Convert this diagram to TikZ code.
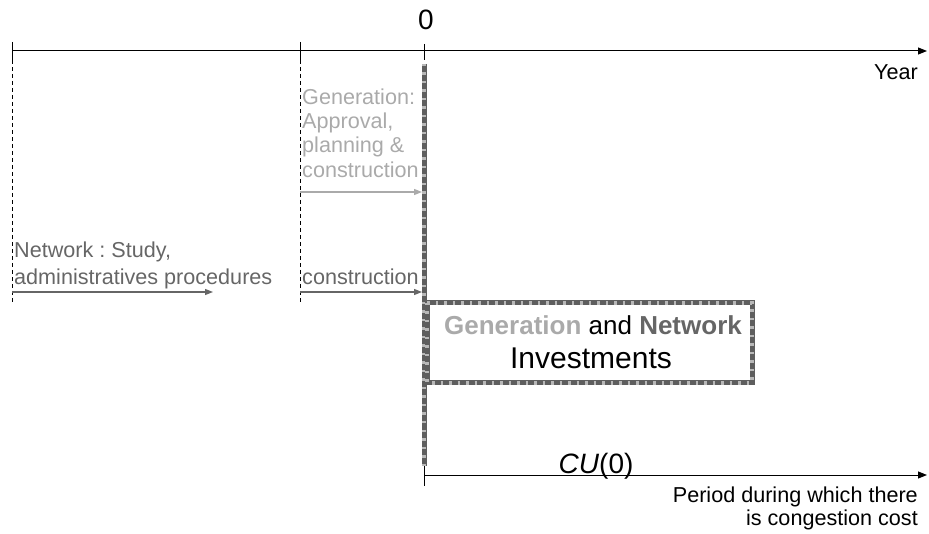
\documentclass[tikz,border=0pt]{standalone}
\usepackage{fontspec}
\setmainfont{Liberation Sans}
\usetikzlibrary{arrows.meta}
\definecolor{lgray}{HTML}{AAAAAA}
\definecolor{dgray}{HTML}{666666}
\definecolor{hatchA}{HTML}{5E5E5E}
\definecolor{hatchB}{HTML}{B8B8B8}
\frenchspacing
\tikzset{
  axis/.style={line width=1pt, -{Triangle[length=9pt,width=7pt]}},
  tick/.style={line width=0.9pt},
  vdash/.style={line width=0.8pt, dash pattern=on 4pt off 3pt},
  hatchbase/.style={line width=5pt, hatchA},
  hatchtop/.style={line width=4.2pt, hatchB, dash pattern=on 2.5pt off 6pt},
  garrow/.style={line width=1.3pt, lgray, -{Triangle[length=8pt,width=6pt]}},
  darrow/.style={line width=1.3pt, dgray, -{Triangle[length=8pt,width=6pt]}},
  lbl/.style={inner sep=0pt, anchor=base west, font=\fontsize{21.6}{24}\selectfont},
  lblr/.style={inner sep=0pt, anchor=base east, font=\fontsize{21.6}{24}\selectfont}
}
\begin{document}
\begin{tikzpicture}[x=1pt,y=-1pt]
\useasboundingbox (0,0) rectangle (929,534);
% coordinates
\coordinate (a0) at (12,51);
\coordinate (aend) at (927,51);
\coordinate (b0) at (424,475);
\coordinate (bend) at (927,475);
% top axis
\draw[axis] (a0) -- (aend);
\draw[tick] (12,42) -- (12,60);
\draw[tick] (300,42) -- (300,60);
\draw[tick] (424,44) -- (424,60);
\node[font=\fontsize{28}{30}\selectfont, inner sep=0pt, anchor=base] (zero) at (426,30) {0};
\node[lblr] (year) at (918,80) {Year};
% dashed verticals
\draw[vdash] (12,60) -- (12,302);
\draw[vdash] (300,60) -- (300,302);
% hatched vertical line
\coordinate (h0) at (424,64);
\coordinate (h1) at (424,466);
\draw[hatchbase] (h0) -- (h1);
\draw[hatchtop] (h0) -- (h1);
% generation text and arrow
\node[lbl, lgray] (gen1) at (302,105) {Generation:};
\node[lbl, lgray] (gen2) at (302,129) {Approval,};
\node[lbl, lgray] (gen3) at (302,153) {planning \&};
\node[lbl, lgray] (gen4) at (302,178) {construction};
\coordinate (g0) at (300,192);
\coordinate (g1) at (422,192);
\draw[garrow] (g0) -- (g1);
% network text and arrows
\node[lbl, dgray] (net1) at (14,258) {Network : Study,};
\node[lbl, dgray] (net2) at (14,285) {administratives procedures};
\coordinate (n0) at (12,292);
\coordinate (n1) at (213,292);
\draw[darrow] (n0) -- (n1);
\node[lbl, dgray] (cons) at (302,285) {construction};
\coordinate (c0) at (300,292);
\coordinate (c1) at (422,292);
\draw[darrow] (c0) -- (c1);
% box
\draw[hatchbase] (427,303) rectangle (752,383);
\draw[hatchtop] (427,303) rectangle (752,383);
\node[inner sep=0pt, anchor=base, font=\fontsize{26}{28}\selectfont] (box1) at (593,335) {\textbf{\textcolor{lgray}{Generation}} and \textbf{\textcolor{dgray}{Network}}};
\node[inner sep=0pt, anchor=base, font=\fontsize{30}{32}\selectfont] (box2) at (591,369) {Investments};
% bottom axis
\draw[axis] (b0) -- (bend);
\draw[tick] (424,466) -- (424,486);
\node[inner sep=0pt, anchor=base, font=\fontsize{28}{30}\selectfont] (cu) at (596,473) {\textit{CU}(0)};
\node[lblr] (per1) at (918,502) {Period during which there};
\node[lblr] (per2) at (918,525) {is congestion cost};
\end{tikzpicture}
\end{document}
